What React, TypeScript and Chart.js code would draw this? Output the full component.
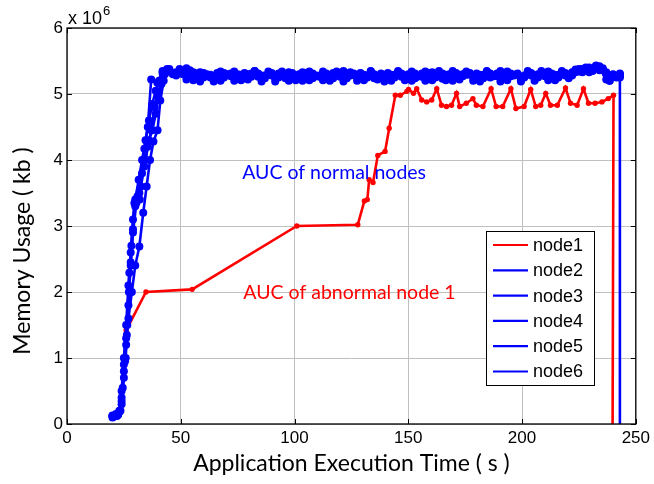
import React, { useEffect, useRef } from "react";
import { Chart, registerables } from "chart.js";

Chart.register(...registerables);

// ---------- data (memory usage in units of 10^6 kb) ----------
const xTicks = [0, 50, 100, 150, 200, 250];
const yTicks = [0, 1, 2, 3, 4, 5, 6];
const seriesNames = ["node1", "node2", "node3", "node4", "node5", "node6"];
const xTitle = "Application Execution Time ( s )";
const yTitle = "Memory Usage ( kb )";
const normalLabel = "AUC of normal nodes";
const abnormalLabel = "AUC of abnormal node 1";

const node1X = [26, 34.7, 55, 101, 127.8, 130.7, 132, 132.8, 134.5, 136.6, 139.8, 141.6, 144.3, 146.5, 149.4, 150.1, 152.3, 153.7, 155.9, 158.1, 160.3, 162.5, 164.6, 166.8, 169.0, 171.2, 172.6, 175.5, 178.4, 179.9, 182.8, 186.4, 188.6, 191.5, 195.1, 197.3, 200.9, 203.8, 206.0, 208.2, 210.4, 212.5, 215.5, 219.1, 221.3, 224.2, 227.0, 229.2, 232.1, 235.1, 237.9, 240.2, 239.8];
const node1Y = [1.42, 2.0, 2.04, 3.0, 3.02, 3.38, 3.4, 3.7, 3.66, 4.07, 4.13, 4.48, 4.98, 4.98, 5.04, 5.07, 5.01, 5.08, 4.91, 4.88, 4.91, 5.08, 4.83, 4.81, 4.83, 5.01, 4.81, 4.86, 4.93, 4.83, 4.81, 5.08, 4.81, 4.81, 5.08, 4.78, 4.81, 5.07, 4.81, 4.83, 5.01, 4.83, 4.83, 5.09, 4.86, 4.83, 5.08, 4.86, 4.86, 4.88, 4.93, 4.98, 0];

// start-up ramps of the normal nodes
const node2RiseX = [20, 21.5, 23, 24, 25, 25.8, 26.5, 27.2, 28, 29, 30.5, 32, 34, 35.5, 37, 39.7, 42];
const node2RiseY = [0.12, 0.13, 0.18, 0.35, 0.7, 1.0, 1.5, 2.0, 2.4, 2.9, 3.35, 3.4, 4.17, 4.5, 5.22, 5.17, 5.35];
const node3RiseX = [20, 22, 23.5, 24.5, 25.5, 26.3, 27.4, 28.3, 29.6, 31, 32.5, 34, 35.5, 37, 38.5, 40, 41.5, 43];
const node3RiseY = [0.1, 0.12, 0.2, 0.55, 0.95, 1.35, 2.29, 2.7, 3.35, 3.45, 3.6, 3.9, 4.2, 4.45, 4.8, 5.0, 5.2, 5.33];
const node4RiseX = [20.5, 22.5, 24, 25, 26, 27, 28, 29, 30, 31.8, 33, 34.5, 36, 37.5, 39, 40, 41.5, 43];
const node4RiseY = [0.11, 0.14, 0.3, 0.8, 1.2, 1.8, 2.45, 2.95, 3.3, 3.5, 3.8, 4.0, 4.3, 4.45, 4.7, 4.95, 5.15, 5.3];
const node5RiseX = [20, 21, 22.5, 24, 25, 26, 27, 28.5, 30, 31.8, 33.5, 35, 36.5, 38, 39.8, 41, 42.5, 44];
const node5RiseY = [0.13, 0.12, 0.15, 0.4, 0.9, 1.3, 1.6, 2.0, 2.4, 2.69, 3.2, 3.6, 4.0, 4.28, 4.45, 4.9, 5.2, 5.35];
const node6RiseX = [20, 21.5, 23, 24, 25, 26, 27, 28, 29, 30, 31.5, 33, 34.5, 36, 37.5, 39, 40.5, 42, 44];
const node6RiseY = [0.12, 0.15, 0.2, 0.5, 1.0, 1.5, 2.1, 2.6, 3.1, 3.4, 3.7, 4.0, 4.3, 4.6, 4.85, 5.05, 5.2, 5.32, 5.38];

// steady-state sampling times of the normal nodes
const plateauTimesA = [
  45, 48, 51, 54, 57, 60, 63, 66, 69, 72, 75,
  78, 81, 84, 87, 90, 93, 96, 99, 102, 105, 108,
  111, 114, 117, 120, 123, 126, 129, 132, 135, 138, 141,
  144, 147, 150, 153, 156, 159, 162, 165, 168, 171, 174,
  177, 180, 183, 186, 189, 192, 195, 198, 201, 204, 207,
  210, 213, 216, 219, 222, 225, 228, 231, 234, 237, 240,
];
const plateauTimesB = [
  46.5, 49.5, 52.5, 55.5, 58.5, 61.5, 64.5, 67.5, 70.5, 73.5, 76.5,
  79.5, 82.5, 85.5, 88.5, 91.5, 94.5, 97.5, 100.5, 103.5, 106.5, 109.5,
  112.5, 115.5, 118.5, 121.5, 124.5, 127.5, 130.5, 133.5, 136.5, 139.5, 142.5,
  145.5, 148.5, 151.5, 154.5, 157.5, 160.5, 163.5, 166.5, 169.5, 172.5, 175.5,
  178.5, 181.5, 184.5, 187.5, 190.5, 193.5, 196.5, 199.5, 202.5, 205.5, 208.5,
  211.5, 214.5, 217.5, 220.5, 223.5, 226.5, 229.5, 232.5, 235.5, 238.5, 241.5,
];
const node2Plateau = [
  5.36, 5.33, 5.30, 5.27, 5.31, 5.25, 5.29, 5.32, 5.26, 5.28, 5.30,
  5.24, 5.29, 5.31, 5.27, 5.30, 5.25, 5.28, 5.32, 5.29, 5.26, 5.30,
  5.28, 5.31, 5.24, 5.29, 5.27, 5.31, 5.28, 5.25, 5.30, 5.29, 5.32,
  5.27, 5.30, 5.26, 5.29, 5.31, 5.28, 5.25, 5.30, 5.28, 5.32, 5.27,
  5.29, 5.31, 5.26, 5.30, 5.28, 5.25, 5.31, 5.29, 5.27, 5.32, 5.30,
  5.28, 5.31, 5.26, 5.30, 5.33, 5.35, 5.38, 5.36, 5.40, 5.22, 5.30,
];
const node3Plateau = [
  5.32, 5.38, 5.22, 5.33, 5.19, 5.30, 5.27, 5.20, 5.29, 5.34, 5.21,
  5.30, 5.35, 5.19, 5.29, 5.24, 5.34, 5.20, 5.27, 5.33, 5.21, 5.28,
  5.34, 5.20, 5.29, 5.19, 5.33, 5.27, 5.21, 5.35, 5.27, 5.19, 5.29,
  5.33, 5.21, 5.34, 5.27, 5.20, 5.33, 5.28, 5.21, 5.35, 5.22, 5.29,
  5.27, 5.19, 5.34, 5.28, 5.35, 5.21, 5.29, 5.19, 5.33, 5.27, 5.35,
  5.21, 5.29, 5.35, 5.24, 5.33, 5.38, 5.33, 5.42, 5.37, 5.20, 5.25,
];
const node4Plateau = [
  5.38, 5.30, 5.35, 5.29, 5.26, 5.32, 5.28, 5.30, 5.25, 5.31, 5.28,
  5.32, 5.26, 5.30, 5.24, 5.28, 5.31, 5.27, 5.25, 5.30, 5.32, 5.24,
  5.27, 5.30, 5.32, 5.26, 5.24, 5.30, 5.32, 5.28, 5.24, 5.31, 5.27,
  5.25, 5.31, 5.29, 5.24, 5.28, 5.32, 5.30, 5.23, 5.27, 5.30, 5.29,
  5.32, 5.27, 5.24, 5.31, 5.29, 5.30, 5.27, 5.31, 5.25, 5.28, 5.26,
  5.31, 5.27, 5.29, 5.32, 5.28, 5.38, 5.40, 5.35, 5.42, 5.30, 5.28,
];
const node5Plateau = [
  5.30, 5.35, 5.39, 5.21, 5.33, 5.28, 5.19, 5.34, 5.30, 5.20, 5.29,
  5.22, 5.35, 5.28, 5.34, 5.19, 5.29, 5.33, 5.21, 5.20, 5.34, 5.27,
  5.21, 5.28, 5.34, 5.35, 5.28, 5.20, 5.29, 5.34, 5.22, 5.28, 5.20,
  5.35, 5.28, 5.20, 5.27, 5.34, 5.21, 5.35, 5.29, 5.20, 5.29, 5.34,
  5.20, 5.29, 5.35, 5.27, 5.19, 5.34, 5.28, 5.21, 5.35, 5.20, 5.29,
  5.34, 5.21, 5.33, 5.29, 5.37, 5.33, 5.40, 5.43, 5.39, 5.20, 5.27,
];
const node6Plateau = [
  5.34, 5.28, 5.32, 5.36, 5.29, 5.31, 5.25, 5.28, 5.32, 5.27, 5.24,
  5.29, 5.31, 5.26, 5.28, 5.32, 5.27, 5.24, 5.30, 5.27, 5.29, 5.31,
  5.26, 5.24, 5.30, 5.32, 5.26, 5.29, 5.31, 5.27, 5.29, 5.25, 5.30,
  5.29, 5.26, 5.30, 5.31, 5.26, 5.30, 5.27, 5.31, 5.30, 5.26, 5.30,
  5.31, 5.26, 5.29, 5.25, 5.31, 5.27, 5.30, 5.30, 5.28, 5.31, 5.25,
  5.27, 5.30, 5.25, 5.28, 5.31, 5.34, 5.39, 5.37, 5.36, 5.33, 5.29,
];
// final samples of the normal nodes (node6 shows the drop to zero)
const blueEndX = [243, 243, 243, 243, 243];
const blueEndY = [5.3, 5.27, 5.31, 5.25, 5.29];
const blueDropX = 243;
const blueDropY = 0;

const RED = "#ff0000";
const BLUE = "#0000ff";

type P = { x: number; y: number };
const pts = (xs: number[], ys: number[]): P[] =>
  xs.map((x, i) => ({ x, y: ys[i] })).filter((p) => p.y !== undefined);

function buildBlue(riseX: number[], riseY: number[], times: number[], plateau: number[], k: number, drop: boolean): P[] {
  const d = [...pts(riseX, riseY), ...pts(times, plateau), { x: blueEndX[k], y: blueEndY[k] }];
  if (drop) d.push({ x: blueDropX, y: blueDropY });
  return d;
}

const TEXT_FONT = "Lato, 'Open Sans', sans-serif";
const TICK_FONT = "'Liberation Sans', Arial, sans-serif";

const overlay = {
  id: "overlay",
  afterDraw(chart: any) {
    const { ctx, chartArea: a, scales } = chart;
    const sx = scales.x;
    const sy = scales.y;
    ctx.save();
    // box + inward ticks
    ctx.strokeStyle = "#000";
    ctx.lineWidth = 1.3;
    ctx.strokeRect(a.left, a.top, a.right - a.left, a.bottom - a.top);
    ctx.lineWidth = 1;
    ctx.beginPath();
    xTicks.forEach((v) => {
      const px = Math.round(sx.getPixelForValue(v)) + 0.5;
      ctx.moveTo(px, a.bottom);
      ctx.lineTo(px, a.bottom - 5);
      ctx.moveTo(px, a.top);
      ctx.lineTo(px, a.top + 5);
    });
    yTicks.forEach((v) => {
      const py = Math.round(sy.getPixelForValue(v)) + 0.5;
      ctx.moveTo(a.left, py);
      ctx.lineTo(a.left + 5, py);
      ctx.moveTo(a.right, py);
      ctx.lineTo(a.right - 5, py);
    });
    ctx.stroke();

    // exponent label
    ctx.fillStyle = "#000";
    ctx.textBaseline = "alphabetic";
    ctx.textAlign = "left";
    ctx.font = `18px ${TICK_FONT}`;
    ctx.fillText("x 10", a.left + 1, a.top - 4);
    const w = ctx.measureText("x 10").width;
    ctx.font = `13px ${TICK_FONT}`;
    ctx.fillText("6", a.left + 2 + w, a.top - 13);

    // axis titles
    ctx.font = `23px ${TEXT_FONT}`;
    ctx.textAlign = "center";
    ctx.textBaseline = "middle";
    ctx.fillText(xTitle, (a.left + a.right) / 2, 464);
    ctx.save();
    ctx.translate(23, 251);
    ctx.rotate(-Math.PI / 2);
    ctx.fillText(yTitle, 0, 0);
    ctx.restore();

    // annotations
    ctx.textAlign = "left";
    ctx.font = `19.5px ${TEXT_FONT}`;
    ctx.fillStyle = BLUE;
    ctx.fillText(normalLabel, sx.getPixelForValue(77), sy.getPixelForValue(3.8));
    ctx.fillStyle = RED;
    ctx.fillText(abnormalLabel, sx.getPixelForValue(77.5), sy.getPixelForValue(1.99));

    // legend
    const lx = 486, ly = 231, lw = 108, lh = 154;
    ctx.fillStyle = "#fff";
    ctx.fillRect(lx, ly, lw, lh);
    ctx.strokeStyle = "#000";
    ctx.lineWidth = 1;
    ctx.strokeRect(lx + 0.5, ly + 0.5, lw, lh);
    ctx.font = `18px ${TICK_FONT}`;
    chart.data.datasets.forEach((ds: any, i: number) => {
      const yy = ly + 14 + i * 25.3;
      ctx.strokeStyle = ds.borderColor;
      ctx.lineWidth = 2.2;
      ctx.beginPath();
      ctx.moveTo(lx + 7, yy);
      ctx.lineTo(lx + 42, yy);
      ctx.stroke();
      ctx.fillStyle = "#000";
      ctx.fillText(ds.label, lx + 47, yy + 1);
    });
    ctx.restore();
  },
};

export default function App() {
  const ref = useRef<HTMLCanvasElement | null>(null);
  useEffect(() => {
    if (!ref.current) return;
    const blueSets = [
      buildBlue(node2RiseX, node2RiseY, plateauTimesA, node2Plateau, 0, false),
      buildBlue(node3RiseX, node3RiseY, plateauTimesB, node3Plateau, 1, false),
      buildBlue(node4RiseX, node4RiseY, plateauTimesA, node4Plateau, 2, false),
      buildBlue(node5RiseX, node5RiseY, plateauTimesB, node5Plateau, 3, false),
      buildBlue(node6RiseX, node6RiseY, plateauTimesA, node6Plateau, 4, true),
    ];
    const datasets: any[] = [
      {
        label: seriesNames[0],
        data: pts(node1X, node1Y),
        borderColor: RED,
        backgroundColor: RED,
        borderWidth: 2.6,
        pointRadius: (c: any) => (c.raw && c.raw.y === 0 ? 0 : 2.7),
        pointBorderWidth: 0,
        showLine: true,
        order: 1,
      },
      ...blueSets.map((d, i) => ({
        label: seriesNames[i + 1],
        data: d,
        borderColor: BLUE,
        backgroundColor: BLUE,
        borderWidth: 2.6,
        pointRadius: (c: any) => (c.raw && c.raw.y === 0 ? 0 : 4),
        pointBorderWidth: 0,
        showLine: true,
        order: 0,
      })),
    ];
    const chart = new Chart(ref.current, {
      type: "scatter",
      data: { datasets },
      options: {
        animation: false,
        responsive: false,
        devicePixelRatio: 1,
        layout: { padding: { left: 0, right: 13, top: 28, bottom: 0 } },
        plugins: { legend: { display: false }, tooltip: { enabled: false } },
        elements: { line: { tension: 0 } },
        scales: {
          x: {
            type: "linear",
            min: 0,
            max: 250,
            afterFit: (s: any) => { s.height = 60; },
            afterBuildTicks: (s: any) => { s.ticks = xTicks.map((v) => ({ value: v })); },
            grid: { color: "#c0c0c0", drawTicks: false, lineWidth: 1 },
            border: { display: false },
            ticks: { color: "#000", padding: 4, font: { family: TICK_FONT, size: 17 } },
          },
          y: {
            type: "linear",
            min: 0,
            max: 6,
            afterFit: (s: any) => { s.width = 67; },
            afterBuildTicks: (s: any) => { s.ticks = yTicks.map((v) => ({ value: v })); },
            grid: { color: "#c0c0c0", drawTicks: false, lineWidth: 1 },
            border: { display: false },
            ticks: { color: "#000", padding: 4, font: { family: TICK_FONT, size: 17 } },
          },
        },
      },
      plugins: [overlay],
    });
    return () => chart.destroy();
  }, []);
  return (
    <div style={{ position: "fixed", left: 0, top: 0, width: 654, height: 484, background: "#fff" }}>
      <canvas ref={ref} width={654} height={484} />
    </div>
  );
}
